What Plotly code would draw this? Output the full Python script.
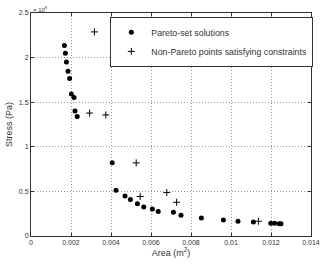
import plotly.graph_objects as go

# Pareto-set solutions (Area m^2, Stress in 1e8 Pa)
pareto_area = [0.00167, 0.00172, 0.00177, 0.00185, 0.00193, 0.00202, 0.00215, 0.00220, 0.00231,
               0.00406, 0.00425, 0.00470, 0.00497, 0.00532, 0.00564, 0.00607, 0.00636, 0.00712,
               0.00750, 0.00852, 0.00962, 0.01035, 0.01112, 0.01199, 0.01218, 0.01241, 0.01250]
pareto_stress = [2.136, 2.049, 1.951, 1.846, 1.766, 1.592, 1.552, 1.400, 1.339,
                 0.820, 0.513, 0.448, 0.408, 0.361, 0.324, 0.302, 0.274, 0.266,
                 0.234, 0.201, 0.179, 0.165, 0.158, 0.143, 0.143, 0.136, 0.136]

# Non-Pareto points satisfying constraints
other_area = [0.00317, 0.00293, 0.00374, 0.00526, 0.00546, 0.00679, 0.00728, 0.01137]
other_stress = [2.288, 1.378, 1.357, 0.820, 0.443, 0.487, 0.378, 0.165]

x_ticks = [0, 0.002, 0.004, 0.006, 0.008, 0.01, 0.012, 0.014]
x_labels = ["0", "0.002", "0.004", "0.006", "0.008", "0.01", "0.012", "0.014"]
y_ticks = [0, 0.5, 1, 1.5, 2, 2.5]
y_labels = ["0", "0.5", "1", "1.5", "2", "2.5"]

legend_labels = ["Pareto-set solutions", "Non-Pareto points satisfying constraints"]

font = "Liberation Sans, Arial, sans-serif"
ink = "#333333"

fig = go.Figure()
fig.add_trace(go.Scatter(x=pareto_area, y=pareto_stress, mode="markers",
                         name=legend_labels[0],
                         marker=dict(symbol="circle", size=5, color="black")))
fig.add_trace(go.Scatter(x=other_area, y=other_stress, mode="markers",
                         name=legend_labels[1],
                         marker=dict(symbol="cross-thin", size=5,
                                     line=dict(color="black", width=1), color="black")))

axis_common = dict(showgrid=True, gridcolor="#999999", griddash="1px,2px", gridwidth=1,
                   showline=True, linecolor=ink, linewidth=1, mirror="ticks",
                   ticks="inside", ticklen=3, tickcolor=ink,
                   tickfont=dict(size=7, color=ink, family=font), zeroline=False)

fig.update_xaxes(range=[0, 0.014], tickvals=x_ticks, ticktext=x_labels,
                 title=dict(text="Area (m<sup>2</sup>)", font=dict(size=9, color=ink, family=font),
                            standoff=4), **axis_common)
fig.update_yaxes(range=[0, 2.5], tickvals=y_ticks, ticktext=y_labels,
                 title=dict(text="Stress (Pa)", font=dict(size=9, color=ink, family=font),
                            standoff=4), **axis_common)

fig.add_annotation(text="\u00d7 10<sup>8</sup>", xref="paper", yref="paper", x=0, y=1,
                   xanchor="left", yanchor="bottom", showarrow=False, yshift=-2,
                   font=dict(size=6, color=ink, family=font))

L, R = 27, 320
T, B = 11, 241.5

fig.update_layout(
    width=329, height=266,
    margin=dict(l=L, r=329 - R, t=T, b=266 - B),
    paper_bgcolor="white", plot_bgcolor="white",
    showlegend=True,
    legend=dict(x=(110 - L) / (R - L), y=(B - 15) / (B - T), xanchor="left", yanchor="top",
                bgcolor="white", bordercolor=ink, borderwidth=1,
                font=dict(size=8.8, color=ink, family=font),
                itemwidth=30, tracegroupgap=0),
    font=dict(family=font),
)

fig.write_html("out.html")
